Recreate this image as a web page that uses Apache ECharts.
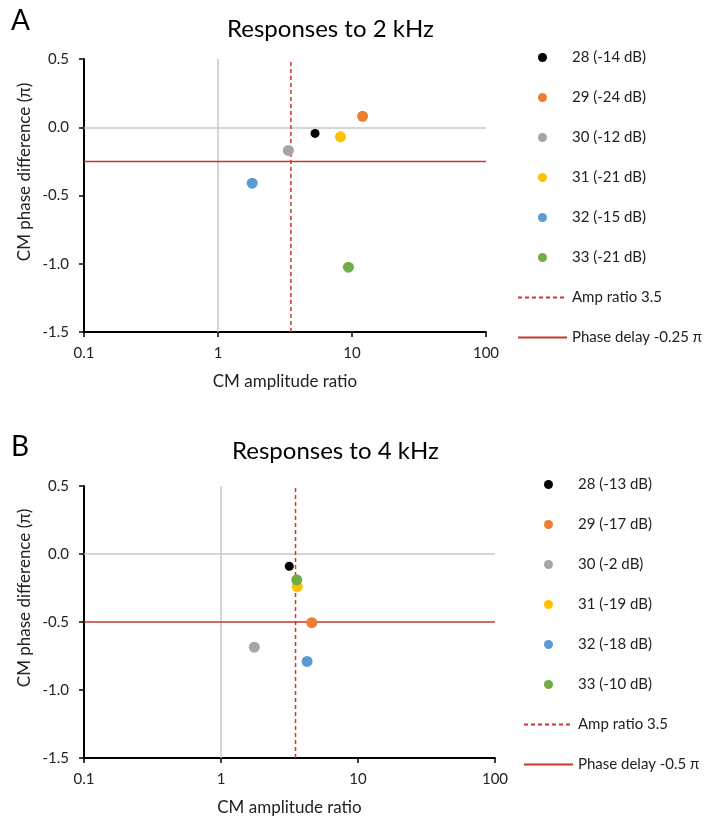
<!DOCTYPE html>
<html lang="en">
<head>
    <meta charset="UTF-8">
    <title>CM responses</title>
    <script src="https://cdn.jsdelivr.net/npm/echarts@6/dist/echarts.min.js"></script>
    <style>
        body { margin: 0; background: #fff; }
    </style>
</head>
<body>
    <div id="main" style="width: 708px;height:825px;"></div>
    <script>
        // x = CM amplitude ratio, y = CM phase difference (pi)
        let xRange = [0.1, 100]
        let yRange = [-1.5, 0.5]
        let refX = 1
        let refY = 0

        let namesA = ['28 (-14 dB)', '29 (-24 dB)', '30 (-12 dB)', '31 (-21 dB)', '32 (-15 dB)', '33 (-21 dB)']
        let ampA = [5.3, 12.0, 3.35, 8.2, 1.8, 9.4]
        let phaseA = [-0.045, 0.08, -0.17, -0.07, -0.41, -1.025]
        let ampThreshA = 3.5
        let phaseThreshA = -0.25

        let namesB = ['28 (-13 dB)', '29 (-17 dB)', '30 (-2 dB)', '31 (-19 dB)', '32 (-18 dB)', '33 (-10 dB)']
        let ampB = [3.15, 4.6, 1.75, 3.6, 4.25, 3.57]
        let phaseB = [-0.09, -0.505, -0.685, -0.24, -0.79, -0.19]
        let ampThreshB = 3.5
        let phaseThreshB = -0.5

        let colors = ['#000000', '#ED7D31', '#A5A5A5', '#FFC000', '#5B9BD5', '#70AD47']
    </script>
    <script>
        var chartDom = document.getElementById('main');
        var myChart = echarts.init(chartDom);
        var font = 'Lato, "Open Sans", sans-serif';
        var txt = '#222';

        function xAxisFor(gridIndex) {
            return {
                type: 'log',
                logBase: 10,
                gridIndex: gridIndex,
                min: xRange[0],
                max: xRange[1],
                name: 'CM amplitude ratio',
                nameLocation: 'middle',
                nameGap: 41,
                nameTextStyle: { fontFamily: font, fontSize: 17, color: txt },
                axisLine: { onZero: false, lineStyle: { color: '#000', width: 2 } },
                axisTick: { show: true, length: 5, lineStyle: { color: '#000', width: 1.5 } },
                minorTick: { show: false },
                splitLine: { show: false },
                axisLabel: { fontFamily: font, fontSize: 15, color: txt, margin: 14 }
            }
        }

        function yAxisFor(gridIndex) {
            return {
                type: 'value',
                gridIndex: gridIndex,
                min: yRange[0],
                max: yRange[1],
                interval: 0.5,
                axisLine: { show: true, onZero: false, lineStyle: { color: '#000', width: 2 } },
                axisTick: { show: true, length: 5, lineStyle: { color: '#000', width: 1.5 } },
                splitLine: { show: false },
                axisLabel: {
                    fontFamily: font, fontSize: 15, color: txt, margin: 15,
                    formatter: function (v) { return v.toFixed(1); }
                }
            }
        }

        function panelSeries(idx, names, amp, phase, ampThresh, phaseThresh, ampName, phaseName) {
            var list = names.map(function (n, i) {
                var s = {
                    name: n,
                    type: 'scatter',
                    xAxisIndex: idx,
                    yAxisIndex: idx,
                    symbolSize: i === 0 ? 9 : 11,
                    itemStyle: { color: colors[i], opacity: 1 },
                    z: 5,
                    data: [[amp[i], phase[i]]]
                };
                if (i === 0) {
                    // grey reference lines at ratio 1 and phase 0
                    s.markLine = {
                        silent: true,
                        symbol: ['none', 'none'],
                        label: { show: false },
                        lineStyle: { type: 'solid', color: '#c8c8c8', width: 1.5 },
                        z: 1,
                        data: [{ xAxis: refX }, { yAxis: refY }]
                    };
                }
                return s;
            });
            list.push({
                name: ampName,
                type: 'line',
                xAxisIndex: idx,
                yAxisIndex: idx,
                symbol: 'none',
                z: 3,
                lineStyle: { color: '#D0342C', width: 1.5, type: [4, 3] },
                itemStyle: { color: '#D0342C', opacity: 0 },
                data: [[ampThresh, yRange[0]], [ampThresh, yRange[1]]]
            });
            list.push({
                name: phaseName,
                type: 'line',
                xAxisIndex: idx,
                yAxisIndex: idx,
                symbol: 'none',
                z: 3,
                lineStyle: { color: '#C0392B', width: 1.5, type: 'solid' },
                itemStyle: { color: '#C0392B', opacity: 0 },
                data: [[xRange[0], phaseThresh], [xRange[1], phaseThresh]]
            });
            return list;
        }

        var ampNameA = 'Amp ratio ' + ampThreshA;
        var phaseNameA = 'Phase delay ' + phaseThreshA + ' \u03c0';
        var ampNameB = 'Amp ratio ' + ampThreshB;
        var phaseNameB = 'Phase delay ' + phaseThreshB + ' \u03c0';

        function legendFor(left, top, names) {
            return {
                orient: 'vertical',
                left: left,
                top: top,
                itemWidth: 49,
                itemHeight: 9,
                itemGap: 25,
                selectedMode: false,
                textStyle: { fontFamily: font, fontSize: 15, color: txt },
                data: names
            }
        }

        function yTitle(x, y) {
            return {
                type: 'text',
                x: x,
                y: y,
                rotation: Math.PI / 2,
                style: {
                    text: 'CM phase difference (\u03c0)',
                    fontFamily: font, fontSize: 17, fill: txt,
                    align: 'center', verticalAlign: 'middle'
                }
            }
        }

        var option = {
            animation: false,
            backgroundColor: '#fff',
            title: [
                { text: 'A', left: 6, top: 2, textStyle: { fontFamily: font, fontSize: 28, fontWeight: 'normal', color: '#000' } },
                { text: 'Responses to 2 kHz', left: 222, top: 12, textStyle: { fontFamily: font, fontSize: 24, fontWeight: 'normal', color: '#000' } },
                { text: 'B', left: 6, top: 428, textStyle: { fontFamily: font, fontSize: 28, fontWeight: 'normal', color: '#000' } },
                { text: 'Responses to 4 kHz', left: 227, top: 434, textStyle: { fontFamily: font, fontSize: 24, fontWeight: 'normal', color: '#000' } }
            ],
            graphic: [yTitle(25, 172), yTitle(25, 598)],
            legend: [
                legendFor(512, 45, namesA.concat([ampNameA, phaseNameA])),
                legendFor(518, 472, namesB.concat([ampNameB, phaseNameB]))
            ],
            grid: [
                { left: 84, top: 59, width: 402, height: 273 },
                { left: 84, top: 486, width: 411, height: 272 }
            ],
            xAxis: [xAxisFor(0), xAxisFor(1)],
            yAxis: [yAxisFor(0), yAxisFor(1)],
            series: panelSeries(0, namesA, ampA, phaseA, ampThreshA, phaseThreshA, ampNameA, phaseNameA)
                .concat(panelSeries(1, namesB, ampB, phaseB, ampThreshB, phaseThreshB, ampNameB, phaseNameB))
        };

        option && myChart.setOption(option);
    </script>
</body>
</html>
